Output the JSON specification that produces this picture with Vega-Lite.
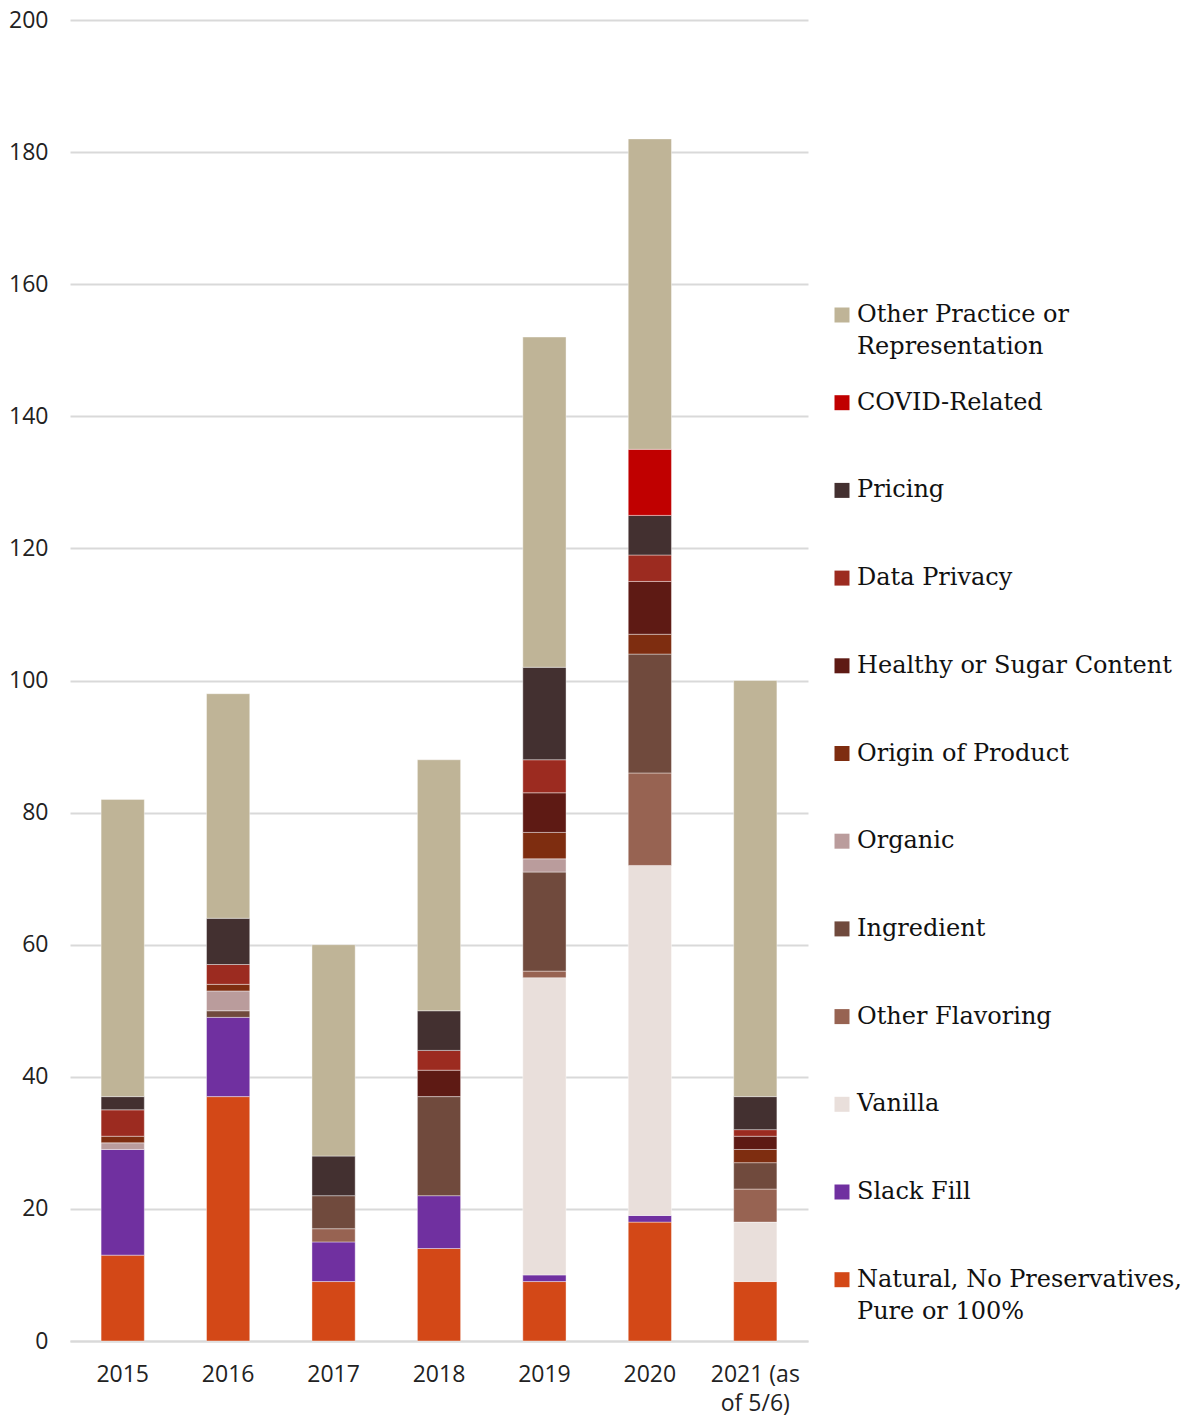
{
  "$schema": "https://vega.github.io/schema/vega-lite/v6.json",
  "autosize": {"type": "none"},
  "width": 738,
  "height": 1321,
  "padding": {"left": 70, "top": 20, "right": 375, "bottom": 75},
  "background": "white",
  "config": {"view": {"stroke": null}, "style": {"guide-label": {"lineHeight": 32}}},
  "data": {"values": [
    {"year": "2015", "cat": "Natural, No Preservatives, Pure or 100%", "n": 13},
    {"year": "2015", "cat": "Slack Fill", "n": 16},
    {"year": "2015", "cat": "Organic", "n": 1},
    {"year": "2015", "cat": "Origin of Product", "n": 1},
    {"year": "2015", "cat": "Data Privacy", "n": 4},
    {"year": "2015", "cat": "Pricing", "n": 2},
    {"year": "2015", "cat": "Other Practice or Representation", "n": 45},
    {"year": "2016", "cat": "Natural, No Preservatives, Pure or 100%", "n": 37},
    {"year": "2016", "cat": "Slack Fill", "n": 12},
    {"year": "2016", "cat": "Ingredient", "n": 1},
    {"year": "2016", "cat": "Organic", "n": 3},
    {"year": "2016", "cat": "Origin of Product", "n": 1},
    {"year": "2016", "cat": "Data Privacy", "n": 3},
    {"year": "2016", "cat": "Pricing", "n": 7},
    {"year": "2016", "cat": "Other Practice or Representation", "n": 34},
    {"year": "2017", "cat": "Natural, No Preservatives, Pure or 100%", "n": 9},
    {"year": "2017", "cat": "Slack Fill", "n": 6},
    {"year": "2017", "cat": "Other Flavoring", "n": 2},
    {"year": "2017", "cat": "Ingredient", "n": 5},
    {"year": "2017", "cat": "Pricing", "n": 6},
    {"year": "2017", "cat": "Other Practice or Representation", "n": 32},
    {"year": "2018", "cat": "Natural, No Preservatives, Pure or 100%", "n": 14},
    {"year": "2018", "cat": "Slack Fill", "n": 8},
    {"year": "2018", "cat": "Ingredient", "n": 15},
    {"year": "2018", "cat": "Healthy or Sugar Content", "n": 4},
    {"year": "2018", "cat": "Data Privacy", "n": 3},
    {"year": "2018", "cat": "Pricing", "n": 6},
    {"year": "2018", "cat": "Other Practice or Representation", "n": 38},
    {"year": "2019", "cat": "Natural, No Preservatives, Pure or 100%", "n": 9},
    {"year": "2019", "cat": "Slack Fill", "n": 1},
    {"year": "2019", "cat": "Vanilla", "n": 45},
    {"year": "2019", "cat": "Other Flavoring", "n": 1},
    {"year": "2019", "cat": "Ingredient", "n": 15},
    {"year": "2019", "cat": "Organic", "n": 2},
    {"year": "2019", "cat": "Origin of Product", "n": 4},
    {"year": "2019", "cat": "Healthy or Sugar Content", "n": 6},
    {"year": "2019", "cat": "Data Privacy", "n": 5},
    {"year": "2019", "cat": "Pricing", "n": 14},
    {"year": "2019", "cat": "Other Practice or Representation", "n": 50},
    {"year": "2020", "cat": "Natural, No Preservatives, Pure or 100%", "n": 18},
    {"year": "2020", "cat": "Slack Fill", "n": 1},
    {"year": "2020", "cat": "Vanilla", "n": 53},
    {"year": "2020", "cat": "Other Flavoring", "n": 14},
    {"year": "2020", "cat": "Ingredient", "n": 18},
    {"year": "2020", "cat": "Origin of Product", "n": 3},
    {"year": "2020", "cat": "Healthy or Sugar Content", "n": 8},
    {"year": "2020", "cat": "Data Privacy", "n": 4},
    {"year": "2020", "cat": "Pricing", "n": 6},
    {"year": "2020", "cat": "COVID-Related", "n": 10},
    {"year": "2020", "cat": "Other Practice or Representation", "n": 47},
    {"year": "2021 (as of 5/6)", "cat": "Natural, No Preservatives, Pure or 100%", "n": 9},
    {"year": "2021 (as of 5/6)", "cat": "Vanilla", "n": 9},
    {"year": "2021 (as of 5/6)", "cat": "Other Flavoring", "n": 5},
    {"year": "2021 (as of 5/6)", "cat": "Ingredient", "n": 4},
    {"year": "2021 (as of 5/6)", "cat": "Origin of Product", "n": 2},
    {"year": "2021 (as of 5/6)", "cat": "Healthy or Sugar Content", "n": 2},
    {"year": "2021 (as of 5/6)", "cat": "Data Privacy", "n": 1},
    {"year": "2021 (as of 5/6)", "cat": "Pricing", "n": 5},
    {"year": "2021 (as of 5/6)", "cat": "Other Practice or Representation", "n": 63}
  ]},
  "transform": [
    {"calculate": "indexof(['Natural, No Preservatives, Pure or 100%', 'Slack Fill', 'Vanilla', 'Other Flavoring', 'Ingredient', 'Organic', 'Origin of Product', 'Healthy or Sugar Content', 'Data Privacy', 'Pricing', 'COVID-Related', 'Other Practice or Representation'], datum.cat)", "as": "stackRank"}
  ],
  "mark": {"type": "bar", "stroke": "white", "strokeWidth": 0.8, "strokeOpacity": 0.5},
  "encoding": {
    "x": {
      "field": "year", "type": "nominal", "title": null,
      "scale": {"paddingInner": 0.59, "paddingOuter": 0.295},
      "axis": {
        "labelAngle": 0, "labelFont": "Open Sans", "labelFontSize": 23, "labelColor": "#222222",
        "labelPadding": 22, "labelLineHeight": 29, "ticks": false,
        "domainColor": "#d9d9d9", "domainWidth": 2,
        "labelExpr": "datum.label == '2021 (as of 5/6)' ? ['2021 (as', 'of 5/6)'] : datum.label"
      }
    },
    "y": {
      "aggregate": "sum", "field": "n", "type": "quantitative", "title": null,
      "stack": "zero",
      "scale": {"domain": [0, 200], "nice": false},
      "axis": {
        "values": [0, 20, 40, 60, 80, 100, 120, 140, 160, 180, 200],
        "labelFont": "Open Sans", "labelFontSize": 23, "labelColor": "#222222",
        "labelPadding": 22, "ticks": false, "domain": false,
        "gridColor": "#d9d9d9", "gridWidth": 2
      }
    },
    "order": {"field": "stackRank", "type": "quantitative", "sort": "ascending"},
    "color": {
      "field": "cat", "type": "nominal",
      "scale": {
        "domain": ["Other Practice or Representation", "COVID-Related", "Pricing", "Data Privacy", "Healthy or Sugar Content", "Origin of Product", "Organic", "Ingredient", "Other Flavoring", "Vanilla", "Slack Fill", "Natural, No Preservatives, Pure or 100%"],
        "range": ["#BFB497", "#C00000", "#433030", "#9C2B20", "#5E1A14", "#7E2D10", "#BA9C9C", "#704A3D", "#976352", "#E9DFDB", "#7030A0", "#D34817"]
      },
      "legend": {
        "title": null, "orient": "none", "legendX": 760, "legendY": 283,
        "symbolType": "square", "symbolSize": 225, "symbolStrokeWidth": 0, "symbolOpacity": 1,
        "labelFont": "DejaVu Serif", "labelFontSize": 24, "labelColor": "#111111",
        "labelLimit": 400, "labelOffset": 3, "labelBaseline": "middle",
        "rowPadding": 31.7,
        "labelExpr": "datum.label == 'Other Practice or Representation' ? ['Other Practice or', 'Representation'] : datum.label == 'Natural, No Preservatives, Pure or 100%' ? ['Natural, No Preservatives,', 'Pure or 100%'] : [datum.label, ' ']"
      }
    }
  }
}
